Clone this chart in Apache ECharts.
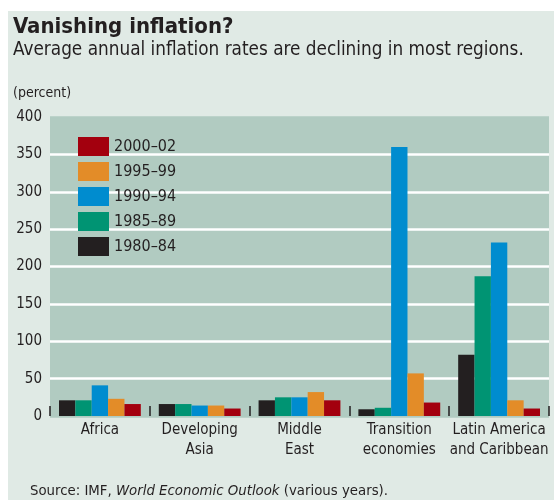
<!DOCTYPE html>
<html>
<head>
<meta charset="utf-8">
<script src="https://cdn.jsdelivr.net/npm/echarts@6/dist/echarts.min.js"></script>
<style>
  html, body { margin: 0; padding: 0; background: #fff; }
  #chart { width: 554px; height: 500px; }
</style>
</head>
<body>
<div id="chart"></div>
<script>
const categories = ['Africa', 'Developing\nAsia', 'Middle\nEast', 'Transition\neconomies', 'Latin America\nand Caribbean']
const periods = ['1980–84', '1985–89', '1990–94', '1995–99', '2000–02']
const colors = ['#231f20', '#009473', '#008ccf', '#e38c28', '#a3000e']

// inflation per period, one array per period, in category order
const v1980 = [21, 16, 21, 9, 82]
const v1985 = [21, 16, 25, 11, 187]
const v1990 = [41, 14, 25, 360, 232]
const v1995 = [23, 14, 32, 57, 21]
const v2000 = [16, 10, 21, 18, 10]
const seriesValues = [v1980, v1985, v1990, v1995, v2000]

const yTicks = [0, 50, 100, 150, 200, 250, 300, 350, 400]

const FONT = "'Liberation Sans Narrow', 'DejaVu Sans Condensed', sans-serif"
const INK = '#231f20'
const PLOT_BG = '#b1cbc1'
const PAGE_BG = '#e0eae5'

const chart = echarts.init(document.getElementById('chart'))

const option = {
    backgroundColor: '#ffffff',
    animation: false,
    color: colors,
    textStyle: { fontFamily: FONT, color: INK },
    grid: {
        left: 50,
        right: 5,
        top: 117,
        bottom: 84,
        show: true,
        backgroundColor: PLOT_BG,
        borderWidth: 0
    },
    legend: {
        data: periods.slice().reverse(),
        orient: 'vertical',
        left: 73,
        top: 132,
        icon: 'rect',
        itemWidth: 31,
        itemHeight: 19,
        itemGap: 6,
        textStyle: { fontFamily: FONT, fontSize: 16, color: INK }
    },
    xAxis: {
        type: 'category',
        data: categories,
        axisLine: { show: false },
        axisTick: { show: true, inside: true, length: 10, lineStyle: { color: INK, width: 1.5 } },
        axisLabel: { interval: 0, fontFamily: FONT, fontSize: 15, color: INK, lineHeight: 20, margin: 4 }
    },
    yAxis: {
        type: 'value',
        min: yTicks[0],
        max: yTicks[yTicks.length - 1],
        interval: 50,
        axisLine: { show: false },
        axisTick: { show: false },
        axisLabel: { fontFamily: FONT, fontSize: 15, color: INK, margin: 8, padding: [8, 0, 0, 0] },
        splitLine: {
            lineStyle: {
                width: 2.5,
                color: [PLOT_BG, '#fff', '#fff', '#fff', '#fff', '#fff', '#fff', '#fff', PLOT_BG]
            }
        }
    },
    series: periods.map((p, i) => ({
        name: p,
        type: 'bar',
        data: seriesValues[i],
        barGap: 0,
        barCategoryGap: '18%'
    })),
    graphic: [
        {
            type: 'rect',
            z: -10,
            shape: { x: 8, y: 11, width: 546, height: 489 },
            style: { fill: PAGE_BG }
        },
        {
            type: 'text',
            left: 13,
            top: 16,
            style: { text: 'Vanishing inflation?', fontFamily: FONT, fontSize: 22, fontWeight: 'bold', fill: INK }
        },
        {
            type: 'text',
            left: 13,
            top: 41,
            style: { text: 'Average annual inflation rates are declining in most regions.', fontFamily: FONT, fontSize: 18.8, fill: INK }
        },
        {
            type: 'text',
            left: 13,
            top: 86,
            style: { text: '(percent)', fontFamily: FONT, fontSize: 14, fill: INK }
        },
        {
            type: 'text',
            left: 30,
            top: 484,
            style: {
                text: '{n|Source: IMF, }{i|World Economic Outlook}{n| (various years).}',
                rich: {
                    n: { fontFamily: FONT, fontSize: 14.8, fill: INK },
                    i: { fontFamily: FONT, fontSize: 14.8, fontStyle: 'italic', fill: INK }
                }
            }
        }
    ]
}

chart.setOption(option)
</script>
</body>
</html>
